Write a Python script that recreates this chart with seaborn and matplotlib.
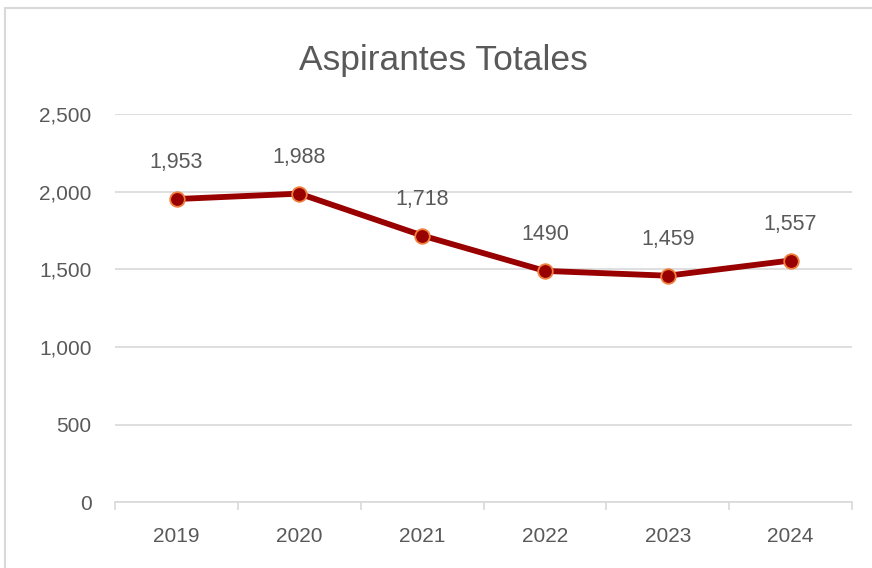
import matplotlib
matplotlib.use("Agg")
import matplotlib.pyplot as plt
import seaborn as sns
import pandas as pd
from matplotlib.patches import Rectangle
from matplotlib.ticker import FixedLocator, FuncFormatter

years = ["2019", "2020", "2021", "2022", "2023", "2024"]
aspirantes = [1953, 1988, 1718, 1490, 1459, 1557]
point_labels = ["1,953", "1,988", "1,718", "1490", "1,459", "1,557"]
y_ticks = [0, 500, 1000, 1500, 2000, 2500]

sns.set_theme(style="white")
plt.rcParams["font.family"] = ["Liberation Sans", "DejaVu Sans"]

df = pd.DataFrame({"year": years, "aspirantes": aspirantes})
gray = "#595959"

fig = plt.figure(figsize=(8.72, 5.68), dpi=100)
ax = fig.add_axes([0.132, 0.116, 0.845, 0.683])

sns.lineplot(
    data=df, x="year", y="aspirantes", ax=ax,
    color="#990000", linewidth=4.2, marker="o", markersize=10.5,
    markerfacecolor="#990000", markeredgecolor="#F07F3C", markeredgewidth=1.3,
    zorder=3,
)

for i, (v, lab) in enumerate(zip(aspirantes, point_labels)):
    ax.annotate(lab, (i, v), xytext=(0, 26), textcoords="offset points",
                ha="center", va="center", fontsize=15.5, color=gray)

ax.set_xlim(-0.5, len(years) - 0.5)
ax.set_ylim(0, 2500)
ax.set_yticks(y_ticks)
ax.yaxis.set_major_formatter(FuncFormatter(lambda v, p: f"{int(v):,}"))
ax.grid(axis="y", color="#D9D9D9", linewidth=1.2)
ax.grid(axis="x", visible=False)

# category boundary ticks, labels centered between them
ax.xaxis.set_major_locator(FixedLocator([i - 0.5 for i in range(len(years) + 1)]))
ax.xaxis.set_major_formatter(FuncFormatter(lambda v, p: ""))
ax.xaxis.set_minor_locator(FixedLocator(range(len(years))))
ax.set_xticklabels(years, minor=True)
ax.tick_params(axis="x", which="major", length=6, width=1.2, color="#D9D9D9", direction="out", bottom=True)
ax.tick_params(axis="x", which="minor", length=0, pad=18, labelsize=15, labelcolor=gray)
ax.tick_params(axis="y", length=0, pad=17, labelsize=15, labelcolor=gray)

for s in ["top", "right", "left"]:
    ax.spines[s].set_visible(False)
ax.spines["bottom"].set_color("#D9D9D9")
ax.spines["bottom"].set_linewidth(1.2)

ax.set_xlabel("")
ax.set_ylabel("")
fig.text(0.509, 0.893, "Aspirantes Totales", ha="center", va="center",
         fontsize=25.5, color=gray)

fig.patches.append(Rectangle((5 / 872, -0.1), 1.2, (568 - 8) / 568 + 0.1,
                             transform=fig.transFigure, fill=False,
                             edgecolor="#D9D9D9", linewidth=1.5))

fig.savefig("out.png", dpi=100)
